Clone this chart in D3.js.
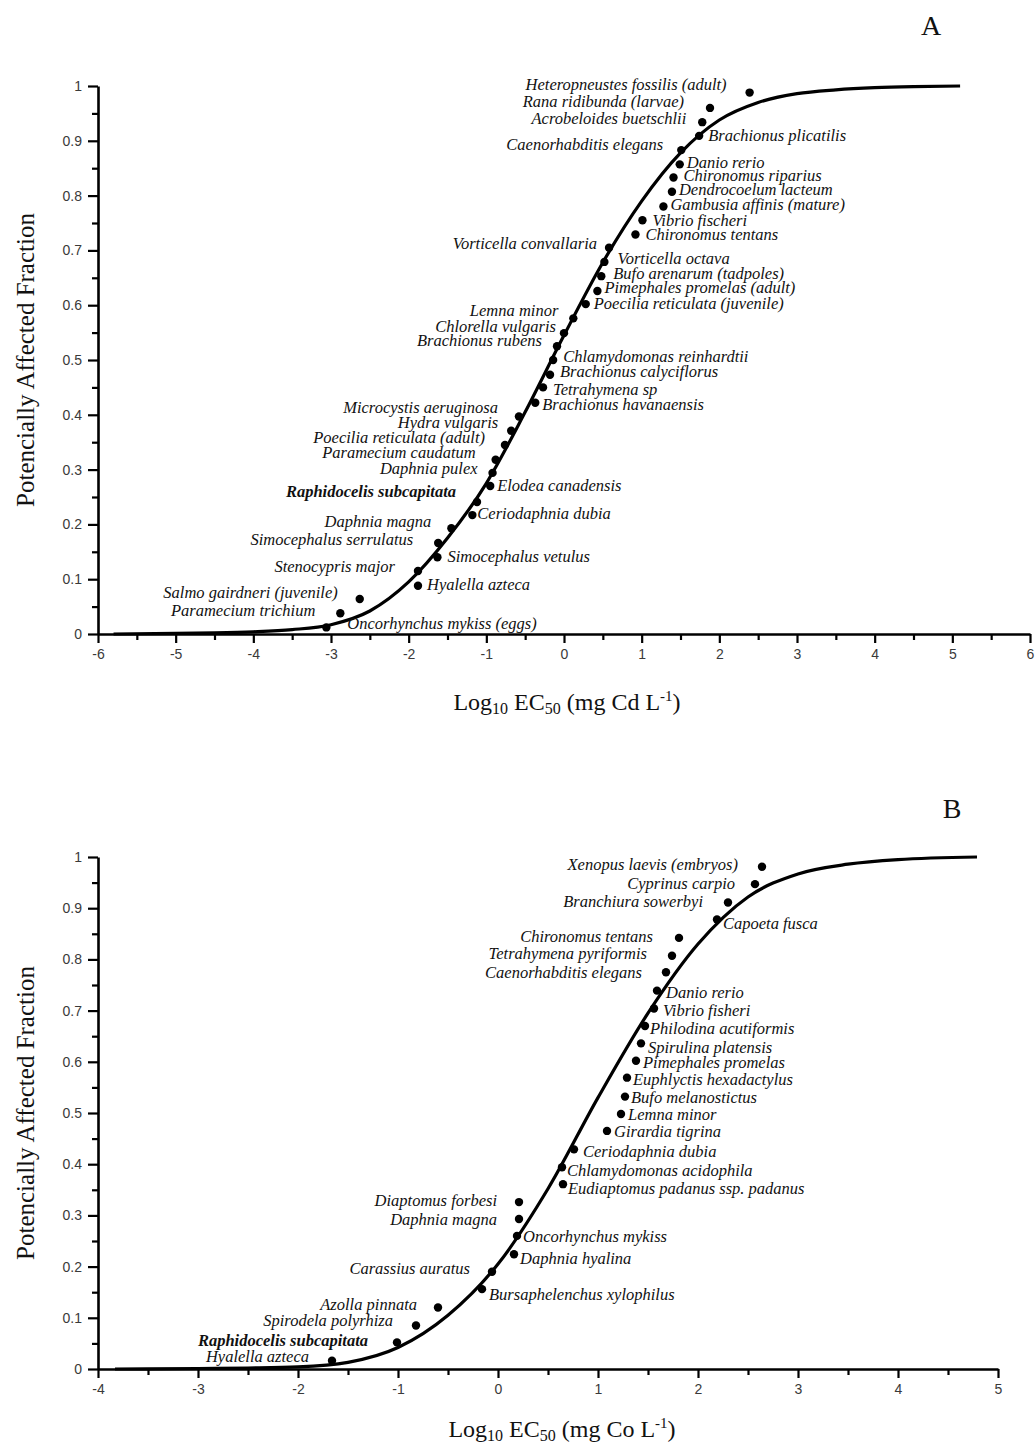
<!DOCTYPE html>
<html>
<head>
<meta charset="utf-8">
<script src="https://cdn.jsdelivr.net/npm/d3@7"></script>
<style>
  html, body { margin: 0; padding: 0; background: #fff; }
  svg { display: block; }
</style>
</head>
<body>
<svg id="chart" width="1036" height="1447"></svg>
<script>
// ---------------- DATA: panel A (Cd) ----------------
const speciesA = [
  "Oncorhynchus mykiss (eggs)", "Paramecium trichium", "Salmo gairdneri (juvenile)", "Hyalella azteca",
  "Stenocypris major", "Simocephalus vetulus", "Simocephalus serrulatus", "Daphnia magna",
  "Ceriodaphnia dubia", "Raphidocelis subcapitata", "Elodea canadensis", "Daphnia pulex",
  "Paramecium caudatum", "Poecilia reticulata (adult)", "Hydra vulgaris", "Microcystis aeruginosa",
  "Brachionus havanaensis", "Tetrahymena sp", "Brachionus calyciflorus", "Chlamydomonas reinhardtii",
  "Brachionus rubens", "Chlorella vulgaris", "Lemna minor", "Poecilia reticulata (juvenile)",
  "Pimephales promelas (adult)", "Bufo arenarum (tadpoles)", "Vorticella octava", "Vorticella convallaria",
  "Chironomus tentans", "Vibrio fischeri", "Gambusia affinis (mature)", "Dendrocoelum lacteum",
  "Chironomus riparius", "Danio rerio", "Caenorhabditis elegans", "Brachionus plicatilis",
  "Acrobeloides buetschlii", "Rana ridibunda (larvae)", "Heteropneustes fossilis (adult)"
];
const logEC50A = [
  -3.06, -2.88, -2.63, -1.88, -1.88, -1.63, -1.62, -1.45, -1.18, -1.12,
  -0.95, -0.92, -0.88, -0.76, -0.68, -0.58, -0.37, -0.27, -0.18, -0.14,
  -0.09, 0.00, 0.12, 0.28, 0.43, 0.48, 0.52, 0.58, 0.92, 1.01,
  1.28, 1.39, 1.41, 1.49, 1.51, 1.74, 1.78, 1.88, 2.39
];
const pafA = [
  0.012, 0.038, 0.064, 0.088, 0.115, 0.140, 0.166, 0.193, 0.217, 0.241,
  0.270, 0.294, 0.318, 0.345, 0.371, 0.397, 0.422, 0.450, 0.473, 0.500,
  0.525, 0.549, 0.576, 0.602, 0.626, 0.653, 0.679, 0.705, 0.729, 0.755,
  0.780, 0.807, 0.833, 0.857, 0.883, 0.909, 0.934, 0.960, 0.988
];
const boldA = ["Raphidocelis subcapitata"];
// fitted curve
const curveXA = [-5.8, -5, -4.5, -4, -3.5, -3, -2.5, -2, -1.5, -1, -0.5, 0, 0.5, 1, 1.5, 2, 2.5, 3, 3.5, 4, 4.5, 5.1];
const curveYA = [0.000, 0.001, 0.002, 0.004, 0.008, 0.017, 0.042, 0.095, 0.175, 0.275, 0.405, 0.545, 0.678, 0.790, 0.878, 0.938, 0.970, 0.986, 0.993, 0.997, 0.999, 1.000];
const xTicksA = [-6, -5, -4, -3, -2, -1, 0, 1, 2, 3, 4, 5, 6];

// ---------------- DATA: panel B (Co) ----------------
const speciesB = [
  "Hyalella azteca", "Raphidocelis subcapitata", "Spirodela polyrhiza", "Azolla pinnata",
  "Bursaphelenchus xylophilus", "Carassius auratus", "Daphnia hyalina", "Oncorhynchus mykiss",
  "Daphnia magna", "Diaptomus forbesi", "Eudiaptomus padanus ssp. padanus", "Chlamydomonas acidophila",
  "Ceriodaphnia dubia", "Girardia tigrina", "Lemna minor", "Bufo melanostictus",
  "Euphlyctis hexadactylus", "Pimephales promelas", "Spirulina platensis", "Philodina acutiformis",
  "Vibrio fisheri", "Danio rerio", "Caenorhabditis elegans", "Tetrahymena pyriformis",
  "Chironomus tentans", "Capoeta fusca", "Branchiura sowerbyi", "Cyprinus carpio",
  "Xenopus laevis (embryos)"
];
const logEC50B = [
  -1.66, -1.01, -0.82, -0.60, -0.16, -0.06, 0.16, 0.19, 0.21, 0.21,
  0.65, 0.64, 0.76, 1.09, 1.23, 1.27, 1.29, 1.38, 1.43, 1.47,
  1.56, 1.59, 1.68, 1.74, 1.81, 2.19, 2.30, 2.57, 2.64
];
const pafB = [
  0.016, 0.052, 0.085, 0.120, 0.156, 0.190, 0.224, 0.260, 0.293, 0.326,
  0.361, 0.394, 0.429, 0.465, 0.498, 0.532, 0.569, 0.602, 0.636, 0.670,
  0.704, 0.739, 0.775, 0.807, 0.842, 0.878, 0.911, 0.947, 0.981
];
const boldB = ["Raphidocelis subcapitata"];
const curveXB = [-3.83, -3, -2.5, -2, -1.5, -1, -0.5, 0, 0.5, 1, 1.5, 2, 2.5, 3, 3.5, 4, 4.79];
const curveYB = [0.000, 0.001, 0.002, 0.004, 0.013, 0.042, 0.105, 0.205, 0.352, 0.530, 0.695, 0.830, 0.922, 0.967, 0.986, 0.995, 1.000];
const xTicksB = [-4, -3, -2, -1, 0, 1, 2, 3, 4, 5];

const yTicks = [0, 0.1, 0.2, 0.3, 0.4, 0.5, 0.6, 0.7, 0.8, 0.9, 1];

// ---------------- label placement (pixel offsets from each dot) ----------------
// [side, dx, dy]  side: "L" = text ends left of dot, "R" = text starts right of dot
const labelPosA = [
  ["R", 21, -4], ["L", -25, -3], ["L", -22, -6], ["R", 9, -1],
  ["L", -23, -4], ["R", 10, -1], ["L", -25, -3], ["L", -20, -7],
  ["R", 5, -2], ["L", -21, -10], ["R", 7, 0], ["L", -15, -4],
  ["L", -20, -7], ["L", -20, -7], ["L", -13, -8], ["L", -21, -9],
  ["R", 7, 2], ["R", 10, 2], ["R", 10, -3], ["R", 10, -3],
  ["L", -15, -6], ["L", -8, -7], ["L", -15, -8], ["R", 8, -1],
  ["R", 7, -3], ["R", 12, -3], ["R", 13, -3], ["L", -12, -4],
  ["R", 10, 0], ["R", 10, 0], ["R", 7, -2], ["R", 7, -2],
  ["R", 10, -2], ["R", 7, -2], ["L", -18, -6], ["R", 9, 0],
  ["L", -16, -4], ["L", -26, -6], ["L", -23, -8]
];
const labelPosB = [
  ["L", -23, -4], ["L", -29, -2], ["L", -23, -5], ["L", -21, -3],
  ["R", 7, 5], ["L", -22, -3], ["R", 6, 4], ["R", 6, 1],
  ["L", -22, 1], ["L", -22, -2], ["R", 5, 4], ["R", 5, 3],
  ["R", 9, 2], ["R", 7, 1], ["R", 7, 1], ["R", 6, 1],
  ["R", 6, 2], ["R", 7, 2], ["R", 7, 4], ["R", 5, 3],
  ["R", 9, 2], ["R", 9, 2], ["L", -24, 0], ["L", -25, -2],
  ["L", -26, -1], ["R", 6, 4], ["L", -25, -1], ["L", -20, -1],
  ["L", -24, -2]
];

// ---------------- drawing ----------------
const svg = d3.select("#chart");
const SERIF = "'Liberation Serif', 'Times New Roman', Times, serif";
const SANS = "'Liberation Sans', Arial, Helvetica, sans-serif";

function drawPanel(cfg) {
  const g = svg.append("g");
  const x = d3.scaleLinear().domain(cfg.xDomain).range(cfg.xRange);
  const y = d3.scaleLinear().domain([0, 1]).range(cfg.yRange);

  // x axis major
  g.append("g")
    .attr("transform", `translate(0,${cfg.yRange[0]})`)
    .call(d3.axisBottom(x).tickValues(cfg.xTicks).tickSize(9).tickSizeOuter(0).tickPadding(6)
      .tickFormat(d => String(d)));
  // x axis minor
  const minorX = d3.range(cfg.xDomain[0] + 0.5, cfg.xDomain[1], 1);
  g.append("g")
    .attr("transform", `translate(0,${cfg.yRange[0]})`)
    .call(d3.axisBottom(x).tickValues(minorX).tickSize(6).tickSizeOuter(0).tickFormat(""))
    .call(a => a.select(".domain").remove());

  // y axis major
  g.append("g")
    .attr("transform", `translate(${cfg.xRange[0]},0)`)
    .call(d3.axisLeft(y).tickValues(yTicks).tickSize(10).tickSizeOuter(0).tickPadding(6)
      .tickFormat(d => d === 0 ? "0" : d === 1 ? "1" : d.toFixed(1)));
  const minorY = d3.range(0.05, 1, 0.1);
  g.append("g")
    .attr("transform", `translate(${cfg.xRange[0]},0)`)
    .call(d3.axisLeft(y).tickValues(minorY).tickSize(6).tickSizeOuter(0).tickFormat(""))
    .call(a => a.select(".domain").remove());

  g.selectAll(".domain").attr("stroke", "#000").attr("stroke-width", 2.6);
  g.selectAll(".tick line").attr("stroke", "#000").attr("stroke-width", 2.2);
  g.selectAll(".tick text")
    .attr("font-family", SANS).attr("font-size", 14).attr("fill", "#3a3a3a");

  // curve
  const curveData = cfg.curveX.map((v, i) => [v, cfg.curveY[i]]);
  g.append("path")
    .datum(curveData)
    .attr("fill", "none")
    .attr("stroke", "#000")
    .attr("stroke-width", 3.2)
    .attr("d", d3.line().x(d => x(d[0])).y(d => y(d[1])).curve(d3.curveMonotoneX));

  // points
  const pts = cfg.species.map((s, i) => ({
    name: s, lx: cfg.xs[i], p: cfg.ys[i], pos: cfg.labelPos[i], bold: cfg.bold.includes(s)
  }));
  g.selectAll("circle.pt").data(pts).join("circle")
    .attr("class", "pt")
    .attr("cx", d => x(d.lx)).attr("cy", d => y(d.p)).attr("r", 4.2)
    .attr("fill", "#000");

  g.selectAll("text.lbl").data(pts).join("text")
    .attr("class", "lbl")
    .attr("x", d => x(d.lx) + d.pos[1])
    .attr("y", d => y(d.p) + d.pos[2])
    .attr("dy", "0.33em")
    .attr("text-anchor", d => d.pos[0] === "L" ? "end" : "start")
    .attr("font-family", SERIF)
    .attr("font-style", "italic")
    .attr("font-weight", d => d.bold ? "bold" : "normal")
    .attr("font-size", 16.5)
    .attr("fill", "#111")
    .text(d => d.name);

  // y title
  const yMid = (cfg.yRange[0] + cfg.yRange[1]) / 2;
  g.append("text")
    .attr("transform", `translate(34,${yMid}) rotate(-90)`)
    .attr("text-anchor", "middle")
    .attr("font-family", SERIF).attr("font-size", 25).attr("fill", "#111")
    .text("Potencially Affected Fraction");

  // x title
  const t = g.append("text")
    .attr("x", cfg.xTitleX).attr("y", cfg.xTitleY)
    .attr("text-anchor", "middle")
    .attr("font-family", SERIF).attr("font-size", 24).attr("fill", "#111");
  t.append("tspan").text("Log");
  t.append("tspan").attr("font-size", 16).attr("dy", 4).text("10");
  t.append("tspan").attr("dy", -4).text(" EC");
  t.append("tspan").attr("font-size", 16).attr("dy", 4).text("50");
  t.append("tspan").attr("dy", -4).text(` (mg ${cfg.metal} L`);
  t.append("tspan").attr("font-size", 15).attr("dy", -9).text("-1");
  t.append("tspan").attr("dy", 9).text(")");

  // panel letter
  g.append("text")
    .attr("x", cfg.letterX).attr("y", cfg.letterY)
    .attr("text-anchor", "middle")
    .attr("font-family", SERIF).attr("font-size", 28).attr("fill", "#111")
    .text(cfg.letter);
}

drawPanel({
  xDomain: [-6, 6], xRange: [98, 1030], yRange: [634, 86], xTicks: xTicksA,
  species: speciesA, xs: logEC50A, ys: pafA, labelPos: labelPosA, bold: boldA,
  curveX: curveXA, curveY: curveYA, metal: "Cd",
  xTitleX: 567, xTitleY: 710, letter: "A", letterX: 931, letterY: 35
});
drawPanel({
  xDomain: [-4, 5], xRange: [98, 998], yRange: [1369, 857], xTicks: xTicksB,
  species: speciesB, xs: logEC50B, ys: pafB, labelPos: labelPosB, bold: boldB,
  curveX: curveXB, curveY: curveYB, metal: "Co",
  xTitleX: 562, xTitleY: 1437, letter: "B", letterX: 952, letterY: 818
});
</script>
</body>
</html>
